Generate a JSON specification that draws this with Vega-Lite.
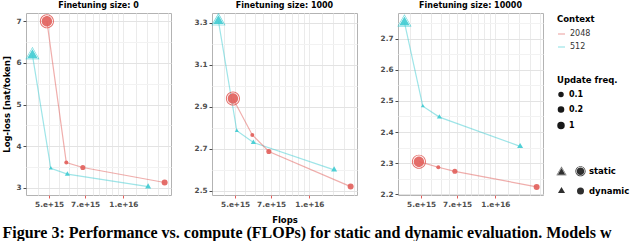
{
  "$schema": "https://vega.github.io/schema/vega-lite/v6.json",
  "padding": {"left": 2, "top": 1, "right": 0, "bottom": 0},
  "background": "white",
  "config": {
    "font": "DejaVu Sans",
    "view": {"stroke": "#B3B3B3", "strokeWidth": 1},
    "axis": {
      "labelFont": "DejaVu Sans", "labelFontSize": 7.3, "labelFontWeight": "bold", "labelColor": "#4D4D4D",
      "titleFont": "DejaVu Sans", "titleFontSize": 8.5, "titleFontWeight": "bold", "titleColor": "#000000",
      "domain": false, "tickSize": 3, "labelPadding": 2, "labelOverlap": false, "labelFlush": false
    },
    "title": {"font": "DejaVu Sans", "fontSize": 8, "fontWeight": "bold", "color": "#000000", "offset": 3, "anchor": "middle"},
    "legend": {
      "titleFont": "DejaVu Sans", "titleFontSize": 8.5, "titleFontWeight": "bold", "titleColor": "#000000",
      "labelFont": "DejaVu Sans", "labelFontSize": 8, "labelColor": "#000000",
      "offset": 11, "rowPadding": 4, "padding": 2, "titlePadding": 6
    }
  },
  "title": {
    "text": "Figure 3:  Performance vs. compute (FLOPs) for static and dynamic evaluation. Models w",
    "orient": "bottom", "anchor": "start", "frame": "bounds",
    "font": "Liberation Serif", "fontSize": 16, "fontWeight": "bold", "color": "#000000", "offset": 1
  },
  "data": {"values": [
    {"ft": 0, "context": "512", "eval": "static", "freq": null, "group": "static-512", "flops": 4.28e15, "loss": 6.19},
    {"ft": 0, "context": "512", "eval": "dynamic", "freq": 0.1, "group": "dynamic-512", "flops": 5.08e15, "loss": 3.47},
    {"ft": 0, "context": "512", "eval": "dynamic", "freq": 0.2, "group": "dynamic-512", "flops": 5.93e15, "loss": 3.33},
    {"ft": 0, "context": "512", "eval": "dynamic", "freq": 1, "group": "dynamic-512", "flops": 1.26e16, "loss": 3.03},
    {"ft": 0, "context": "2048", "eval": "static", "freq": null, "group": "static-2048", "flops": 4.9e15, "loss": 7.0},
    {"ft": 0, "context": "2048", "eval": "dynamic", "freq": 0.1, "group": "dynamic-2048", "flops": 5.87e15, "loss": 3.61},
    {"ft": 0, "context": "2048", "eval": "dynamic", "freq": 0.2, "group": "dynamic-2048", "flops": 6.85e15, "loss": 3.49},
    {"ft": 0, "context": "2048", "eval": "dynamic", "freq": 1, "group": "dynamic-2048", "flops": 1.47e16, "loss": 3.13},
    {"ft": 1000, "context": "512", "eval": "static", "freq": null, "group": "static-512", "flops": 4.28e15, "loss": 3.308},
    {"ft": 1000, "context": "512", "eval": "dynamic", "freq": 0.1, "group": "dynamic-512", "flops": 5.08e15, "loss": 2.786},
    {"ft": 1000, "context": "512", "eval": "dynamic", "freq": 0.2, "group": "dynamic-512", "flops": 5.93e15, "loss": 2.73},
    {"ft": 1000, "context": "512", "eval": "dynamic", "freq": 1, "group": "dynamic-512", "flops": 1.26e16, "loss": 2.6},
    {"ft": 1000, "context": "2048", "eval": "static", "freq": null, "group": "static-2048", "flops": 4.9e15, "loss": 2.94},
    {"ft": 1000, "context": "2048", "eval": "dynamic", "freq": 0.1, "group": "dynamic-2048", "flops": 5.87e15, "loss": 2.766},
    {"ft": 1000, "context": "2048", "eval": "dynamic", "freq": 0.2, "group": "dynamic-2048", "flops": 6.85e15, "loss": 2.687},
    {"ft": 1000, "context": "2048", "eval": "dynamic", "freq": 1, "group": "dynamic-2048", "flops": 1.47e16, "loss": 2.52},
    {"ft": 10000, "context": "512", "eval": "static", "freq": null, "group": "static-512", "flops": 4.28e15, "loss": 2.752},
    {"ft": 10000, "context": "512", "eval": "dynamic", "freq": 0.1, "group": "dynamic-512", "flops": 5.08e15, "loss": 2.483},
    {"ft": 10000, "context": "512", "eval": "dynamic", "freq": 0.2, "group": "dynamic-512", "flops": 5.93e15, "loss": 2.448},
    {"ft": 10000, "context": "512", "eval": "dynamic", "freq": 1, "group": "dynamic-512", "flops": 1.26e16, "loss": 2.354},
    {"ft": 10000, "context": "2048", "eval": "static", "freq": null, "group": "static-2048", "flops": 4.9e15, "loss": 2.305},
    {"ft": 10000, "context": "2048", "eval": "dynamic", "freq": 0.1, "group": "dynamic-2048", "flops": 5.87e15, "loss": 2.287},
    {"ft": 10000, "context": "2048", "eval": "dynamic", "freq": 0.2, "group": "dynamic-2048", "flops": 6.85e15, "loss": 2.274},
    {"ft": 10000, "context": "2048", "eval": "dynamic", "freq": 1, "group": "dynamic-2048", "flops": 1.47e16, "loss": 2.224}
  ]},
  "spacing": 21,
  "resolve": {"scale": {"y": "independent", "x": "shared", "color": "shared", "size": "shared", "shape": "shared"}},
  "hconcat": [
    {
      "title": "Finetuning size: 0",
      "width": 145, "height": 182,
      "transform": [{"filter": "datum.ft == 0"}],
      "encoding": {
        "x": {"field": "flops", "type": "quantitative",
          "scale": {"type": "log", "domain": [4.03e15, 1.56e16], "nice": false},
          "axis": {"title": null,
            "values": [4.5e15, 5e15, 5.5e15, 6e15, 6.5e15, 7e15, 7.5e15, 8e15, 8.5e15, 9e15, 9.5e15, 1e16, 1.12e16, 1.25e16, 1.38e16, 1.51e16],
            "labelExpr": "datum.value == 5000000000000000 ? '5.e+15' : datum.value == 7000000000000000 ? '7.e+15' : datum.value == 10000000000000000 ? '1.e+16' : ''",
            "tickColor": {"condition": {"test": "datum.value == 5000000000000000 || datum.value == 7000000000000000 || datum.value == 10000000000000000", "value": "#E15E5A"}, "value": "transparent"},
            "gridColor": "#EBEBEB"}},
        "y": {"field": "loss", "type": "quantitative",
          "scale": {"domain": [2.83, 7.2], "nice": false, "zero": false},
          "axis": {"title": "Log-loss [nat/token]", "titlePadding": 4,
            "values": [3, 3.5, 4, 4.5, 5, 5.5, 6, 6.5, 7],
            "labelExpr": "indexof([3,4,5,6,7], datum.value) >= 0 ? format(datum.value, 'd') : ''",
            "tickColor": {"condition": {"test": "indexof([3,4,5,6,7], datum.value) >= 0", "value": "#4D4D4D"}, "value": "transparent"},
            "gridColor": {"condition": {"test": "indexof([3,4,5,6,7], datum.value) >= 0", "value": "#E3E3E3"}, "value": "#F2F2F2"}}}
      },
      "layer": [
        {"mark": {"type": "line", "strokeWidth": 1.2, "opacity": 0.5},
         "encoding": {"color": {"field": "context", "type": "nominal",
           "scale": {"domain": ["2048", "512"], "range": ["#E15E5A", "#3ECBD2"]},
           "legend": {"title": "Context", "symbolType": "stroke", "symbolStrokeWidth": 1.2, "symbolSize": 50, "labelColor": "#333333", "labelFontWeight": "normal"}}}},
        {"transform": [{"filter": "datum.eval == 'dynamic'"}],
         "mark": {"type": "point", "filled": true, "opacity": 0.9},
         "encoding": {
           "color": {"field": "context", "type": "nominal"},
           "size": {"field": "freq", "type": "ordinal", "scale": {"range": [16, 36, 110]},
             "legend": {"title": ["", "Update freq."], "titleLineHeight": 13, "symbolType": "circle", "symbolFillColor": "#000000", "symbolStrokeColor": "#000000", "labelFontWeight": "bold",
               "encode": {"symbols": {"update": {"fill": {"value": "#000000"}, "stroke": {"value": "transparent"}, "opacity": {"value": 1}}}}}},
           "shape": {"field": "group", "type": "nominal",
             "scale": {"domain": ["static-512", "dynamic-512", "static-2048", "dynamic-2048"],
               "range": ["M0,-1.67L1.45,0.84L-1.45,0.84ZM0,-1.44L-1.25,0.72L1.25,0.72ZM0,-1.2L1.04,0.6L-1.04,0.6Z",
                         "M0,-1.15L1,0.58L-1,0.58Z",
                         "M1.45,0A1.45,1.45,0,1,1,-1.45,0A1.45,1.45,0,1,1,1.45,0ZM1.25,0A1.25,1.25,0,1,0,-1.25,0A1.25,1.25,0,1,0,1.25,0ZM1.08,0A1.08,1.08,0,1,1,-1.08,0A1.08,1.08,0,1,1,1.08,0Z",
                         "circle"]},
             "legend": {"title": " ", "titleFontSize": 8.5, "titlePadding": 14, "columns": 2, "symbolSize": 49, "columnPadding": 2, "labelFontWeight": "bold", "labelFontSize": 8.5,
               "labelExpr": "datum.value == 'static-2048' ? 'static' : datum.value == 'dynamic-2048' ? 'dynamic' : ''",
               "encode": {"symbols": {"update": {"fill": {"signal": "indexof(datum.value, '512') >= 0 ? '#3ECBD2' : '#E15E5A'"}, "stroke": {"value": "transparent"}, "opacity": {"value": 1}}}}}}
         }},
        {"transform": [{"filter": "datum.eval == 'static'"}],
         "mark": {"type": "point", "filled": true, "size": 94, "opacity": 0.9},
         "encoding": {
           "color": {"field": "context", "type": "nominal"},
           "shape": {"field": "group", "type": "nominal"}
         }}
      ]
    },
    {
      "title": "Finetuning size: 1000",
      "width": 145, "height": 182,
      "transform": [{"filter": "datum.ft == 1000"}],
      "encoding": {
        "x": {"field": "flops", "type": "quantitative",
          "scale": {"type": "log", "domain": [4.03e15, 1.56e16], "nice": false},
          "axis": {"title": "Flops", "titlePadding": 8,
            "values": [4.5e15, 5e15, 5.5e15, 6e15, 6.5e15, 7e15, 7.5e15, 8e15, 8.5e15, 9e15, 9.5e15, 1e16, 1.12e16, 1.25e16, 1.38e16, 1.51e16],
            "labelExpr": "datum.value == 5000000000000000 ? '5.e+15' : datum.value == 7000000000000000 ? '7.e+15' : datum.value == 10000000000000000 ? '1.e+16' : ''",
            "tickColor": {"condition": {"test": "datum.value == 5000000000000000 || datum.value == 7000000000000000 || datum.value == 10000000000000000", "value": "#E15E5A"}, "value": "transparent"},
            "gridColor": "#EBEBEB"}},
        "y": {"field": "loss", "type": "quantitative",
          "scale": {"domain": [2.48, 3.347], "nice": false, "zero": false},
          "axis": {"title": null,
            "values": [2.5, 2.6, 2.7, 2.8, 2.9, 3.0, 3.1, 3.2, 3.3],
            "labelExpr": "indexof([2.5,2.7,2.9,3.1,3.3], datum.value) >= 0 ? format(datum.value, '.1f') : ''",
            "tickColor": {"condition": {"test": "indexof([2.5,2.7,2.9,3.1,3.3], datum.value) >= 0", "value": "#4D4D4D"}, "value": "transparent"},
            "gridColor": {"condition": {"test": "indexof([2.5,2.7,2.9,3.1,3.3], datum.value) >= 0", "value": "#E3E3E3"}, "value": "#F2F2F2"}}}
      },
      "layer": [
        {"mark": {"type": "line", "strokeWidth": 1.2, "opacity": 0.5},
         "encoding": {"color": {"field": "context", "type": "nominal"}}},
        {"transform": [{"filter": "datum.eval == 'dynamic'"}],
         "mark": {"type": "point", "filled": true, "opacity": 0.9},
         "encoding": {"color": {"field": "context", "type": "nominal"}, "size": {"field": "freq", "type": "ordinal"},
           "shape": {"field": "group", "type": "nominal"}}},
        {"transform": [{"filter": "datum.eval == 'static'"}],
         "mark": {"type": "point", "filled": true, "size": 94, "opacity": 0.9},
         "encoding": {"color": {"field": "context", "type": "nominal"}, "shape": {"field": "group", "type": "nominal"}}}
      ]
    },
    {
      "title": "Finetuning size: 10000",
      "width": 145, "height": 182,
      "transform": [{"filter": "datum.ft == 10000"}],
      "encoding": {
        "x": {"field": "flops", "type": "quantitative",
          "scale": {"type": "log", "domain": [4.03e15, 1.56e16], "nice": false},
          "axis": {"title": null,
            "values": [4.5e15, 5e15, 5.5e15, 6e15, 6.5e15, 7e15, 7.5e15, 8e15, 8.5e15, 9e15, 9.5e15, 1e16, 1.12e16, 1.25e16, 1.38e16, 1.51e16],
            "labelExpr": "datum.value == 5000000000000000 ? '5.e+15' : datum.value == 7000000000000000 ? '7.e+15' : datum.value == 10000000000000000 ? '1.e+16' : ''",
            "tickColor": {"condition": {"test": "datum.value == 5000000000000000 || datum.value == 7000000000000000 || datum.value == 10000000000000000", "value": "#E15E5A"}, "value": "transparent"},
            "gridColor": "#EBEBEB"}},
        "y": {"field": "loss", "type": "quantitative",
          "scale": {"domain": [2.198, 2.782], "nice": false, "zero": false},
          "axis": {"title": null,
            "values": [2.2, 2.25, 2.3, 2.35, 2.4, 2.45, 2.5, 2.55, 2.6, 2.65, 2.7, 2.75],
            "labelExpr": "indexof([2.2,2.3,2.4,2.5,2.6,2.7], datum.value) >= 0 ? format(datum.value, '.1f') : ''",
            "tickColor": {"condition": {"test": "indexof([2.2,2.3,2.4,2.5,2.6,2.7], datum.value) >= 0", "value": "#4D4D4D"}, "value": "transparent"},
            "gridColor": {"condition": {"test": "indexof([2.2,2.3,2.4,2.5,2.6,2.7], datum.value) >= 0", "value": "#E3E3E3"}, "value": "#F2F2F2"}}}
      },
      "layer": [
        {"mark": {"type": "line", "strokeWidth": 1.2, "opacity": 0.5},
         "encoding": {"color": {"field": "context", "type": "nominal"}}},
        {"transform": [{"filter": "datum.eval == 'dynamic'"}],
         "mark": {"type": "point", "filled": true, "opacity": 0.9},
         "encoding": {"color": {"field": "context", "type": "nominal"}, "size": {"field": "freq", "type": "ordinal"},
           "shape": {"field": "group", "type": "nominal"}}},
        {"transform": [{"filter": "datum.eval == 'static'"}],
         "mark": {"type": "point", "filled": true, "size": 94, "opacity": 0.9},
         "encoding": {"color": {"field": "context", "type": "nominal"}, "shape": {"field": "group", "type": "nominal"}}}
      ]
    }
  ]
}
